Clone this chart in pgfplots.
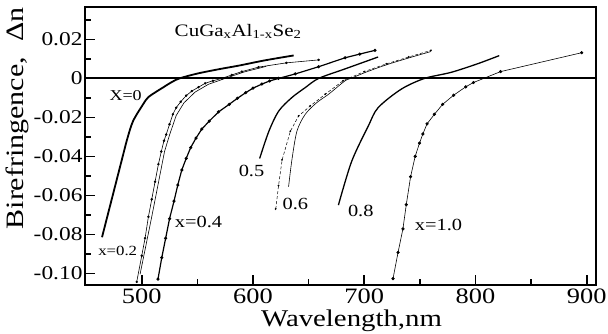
\documentclass[border=0pt]{standalone}
\usepackage{fontspec}
\setmainfont[FakeStretch=1.2]{Liberation Serif}
\usepackage{pgfplots}
\pgfplotsset{compat=1.18}
\begin{document}
\begin{tikzpicture}
\begin{axis}[
 at={(0,0)}, anchor=south west,
 scale only axis, width=510.6pt, height=277.5pt,
 xmin=449, xmax=908, ymin=-0.106, ymax=0.0364,
 axis line style={line width=2pt},
 tick pos=left, tick align=inside,
 xtick={500,600,700,800,900}, xticklabels={500,600,700,800,900},
 minor xtick={550,650,750,850},
 ytick={-0.10,-0.08,-0.06,-0.04,-0.02,0,0.02},
 yticklabels={-0.10,-0.08,-0.06,-0.04,-0.02,0,0.02},
 minor ytick={-0.09,-0.07,-0.05,-0.03,-0.01,0.01,0.03},
 major tick length=10pt, minor tick length=6pt,
 every tick/.style={line width=1.6pt, black},
 xticklabel style={font=\fontsize{22}{22}\selectfont},
 yticklabel style={font=\fontsize{19.5}{19.5}\selectfont, xshift=1pt},
 xlabel={Wavelength,nm}, ylabel={Birefringence,\ \ Δn},
 xlabel style={font=\fontsize{24}{24}\selectfont, at={(axis description cs:0.522,-0.15)}, anchor=base},
 ylabel style={font=\fontsize{25}{25}\selectfont, at={(axis description cs:-0.132,0.6)}, anchor=center},
 /pgf/number format/assume math mode=true,
]
% zero line
\addplot[black, line width=2pt] coordinates {(449,0) (908,0)};
% x = 0
\addplot[black, line width=1.8pt, smooth] coordinates {
(464.3,-0.0815) (482,-0.042) (487,-0.031) (492.2,-0.0219) (501.2,-0.0133) (505.6,-0.0098) (512,-0.0072) (519,-0.0047) (526,-0.0022) (533.9,0) (550,0.0025) (570,0.0048) (587.5,0.0066) (610,0.0092) (636.6,0.0118)};
% x = 0.2 (pair)
\addplot[black, line width=0.6pt, mark=*, mark size=0.9pt] coordinates {
(495.5,-0.1044) (500,-0.091) (503,-0.082) (506,-0.071) (509,-0.062) (512,-0.053) (515,-0.044) (517.6,-0.0375) (520,-0.032) (522,-0.0288) (525,-0.0235) (528,-0.0184) (531,-0.015) (535,-0.012) (540,-0.0088) (545,-0.0065) (551,-0.0045) (557,-0.0025) (564,-0.0012) (572,0) (581,0.0018) (590,0.0035) (605,0.0058) (630,0.008) (659,0.0095)};
\addplot[black, line width=0.6pt] coordinates {
(498.5,-0.1005) (509,-0.071) (520.5,-0.0375) (525,-0.029) (531,-0.019) (538,-0.0125) (548,-0.007) (560,-0.003) (575,0) (592,0.0033) (612,0.0062)};
% x = 0.4
\addplot[black, line width=1.2pt, mark=*, mark size=0.9pt] coordinates {
(514.6,-0.103) (518,-0.092) (521.5,-0.082) (525,-0.072) (529,-0.063) (532.4,-0.0547) (536,-0.047) (540,-0.041) (544,-0.0355) (548.8,-0.0306) (554,-0.026) (560.7,-0.0219) (569,-0.0172) (578.6,-0.0133) (586,-0.0102) (593.5,-0.0073) (600,-0.005) (608,-0.0029) (615,-0.0013) (623,0) (638,0.0023) (659,0.006) (682.8,0.0106) (696,0.0125) (709.6,0.0144)};
% 0.5
\addplot[black, line width=1.3pt, smooth] coordinates {
(606,-0.0411) (614.3,-0.0271) (623.2,-0.0167) (635,-0.0098) (647,-0.0047) (659,0) (682.8,0.0049) (712.5,0.011)};
% 0.6 (pair)
\addplot[black, line width=0.5pt, densely dashed, mark=*, mark size=0.7pt] coordinates {
(620.5,-0.067) (623,-0.055) (626.2,-0.0418) (633.6,-0.0271) (641,-0.0193) (651.5,-0.0141) (665,-0.0081) (681,-0.0012) (685.7,0) (700,0.0035) (720,0.0075) (740,0.011) (760,0.0144)};
\addplot[black, line width=0.6pt, smooth] coordinates {
(632,-0.0556) (635,-0.0418) (639.5,-0.0271) (647,-0.0184) (657.4,-0.0124) (668,-0.0081) (682.8,-0.0012) (688,0) (702,0.0033) (720,0.007) (740,0.0105) (760,0.0138)};
% 0.8
\addplot[black, line width=1.3pt, smooth] coordinates {
(676.8,-0.065) (688.7,-0.0426) (703.6,-0.0245) (712.5,-0.015) (733.3,-0.0055) (754.2,0) (778,0.0031) (801.8,0.0075) (821.4,0.0117)};
% x = 1.0
\addplot[black, line width=0.6pt, mark=*, mark size=1.3pt] coordinates {
(725.9,-0.1027) (730.4,-0.0893) (734.8,-0.0772) (737.8,-0.0648) (741.7,-0.0504) (745.8,-0.0400) (749.7,-0.0332) (752.7,-0.0285) (756.5,-0.0233) (763.1,-0.0184) (770.5,-0.0133) (780.4,-0.0086) (791.3,-0.0043) (798.2,-0.0021) (822.6,0.0035) (895.5,0.0132)};
% labels
\node[anchor=base west, font=\fontsize{17.5}{17.5}\selectfont] at (axis cs:526.5,0.0216) {CuGa\textsubscript{x}Al\textsubscript{1-x}Se\textsubscript{2}};
\node[anchor=base, font=\fontsize{15}{15}\selectfont] at (axis cs:485.5,-0.0112) {X=0};
\node[anchor=base, font=\fontsize{14}{14}\selectfont] at (axis cs:478.4,-0.091) {x=0.2};
\node[anchor=base, font=\fontsize{17}{17}\selectfont] at (axis cs:551,-0.0763) {x=0.4};
\node[anchor=base, font=\fontsize{17}{17}\selectfont] at (axis cs:598.7,-0.0504) {0.5};
\node[anchor=base, font=\fontsize{17}{17}\selectfont] at (axis cs:638.1,-0.0671) {0.6};
\node[anchor=base, font=\fontsize{17}{17}\selectfont] at (axis cs:696.9,-0.0706) {0.8};
\node[anchor=base, font=\fontsize{17}{17}\selectfont] at (axis cs:766.8,-0.078) {x=1.0};
\end{axis}
\pgfresetboundingbox
\path[use as bounding box] (-85pt,-49pt) rectangle (523pt,285pt);
\end{tikzpicture}
\end{document}
